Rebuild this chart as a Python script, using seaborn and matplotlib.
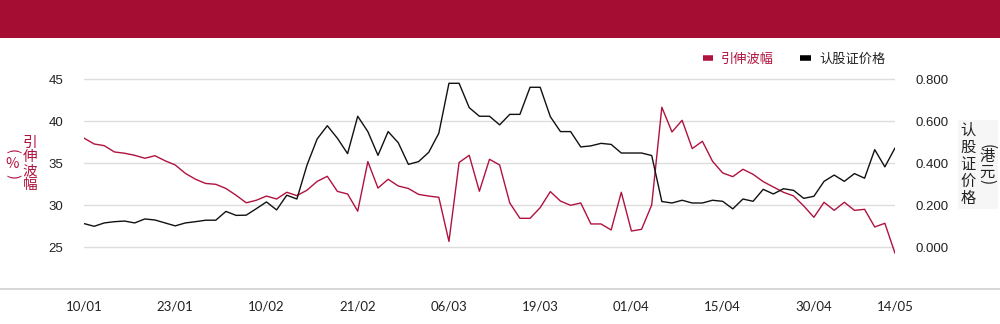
import numpy as np
import matplotlib
matplotlib.use("Agg")
import matplotlib.pyplot as plt
from matplotlib.patches import Rectangle
from matplotlib.lines import Line2D
import seaborn as sns

# Trading days (dd/mm)
dates = [
    "10/01", "11/01", "14/01", "15/01", "16/01", "17/01", "18/01", "21/01", "22/01", "23/01",
    "24/01", "25/01", "28/01", "29/01", "30/01", "31/01", "01/02", "04/02", "10/02", "11/02",
    "12/02", "13/02", "14/02", "15/02", "18/02", "19/02", "20/02", "21/02", "22/02", "25/02",
    "26/02", "27/02", "28/02", "01/03", "04/03", "05/03", "06/03", "07/03", "08/03", "11/03",
    "12/03", "13/03", "14/03", "15/03", "18/03", "19/03", "20/03", "21/03", "22/03", "25/03",
    "26/03", "27/03", "28/03", "29/03", "01/04", "02/04", "03/04", "04/04", "08/04", "09/04",
    "10/04", "11/04", "12/04", "15/04", "16/04", "17/04", "18/04", "23/04", "24/04", "25/04",
    "26/04", "29/04", "30/04", "02/05", "03/05", "06/05", "07/05", "08/05", "09/05", "10/05",
    "14/05",
]

# Implied volatility (%)
implied_vol = [
    38.0, 37.3, 37.1, 36.35, 36.2, 35.95, 35.6, 35.9, 35.3, 34.8,
    33.8, 33.1, 32.6, 32.5, 32.0, 31.2, 30.3, 30.6, 31.1, 30.75,
    31.55, 31.15, 31.8, 32.85, 33.45, 31.65, 31.35, 29.3, 35.2, 32.05,
    33.1, 32.3, 32.0, 31.3, 31.1, 30.95, 25.7, 35.1, 35.95, 31.67,
    35.48, 34.8, 30.28, 28.45, 28.45, 29.72, 31.63, 30.5, 30.0, 30.28,
    27.78, 27.78, 27.06, 31.55, 26.94, 27.14, 30.04, 41.67, 38.73, 40.12,
    36.75, 37.62, 35.24, 33.85, 33.41, 34.29, 33.69, 32.82, 32.18, 31.55,
    31.11, 29.92, 28.57, 30.36, 29.40, 30.36, 29.40, 29.52, 27.42, 27.86,
    24.29,
]

# Warrant price (HKD)
warrant_price = [
    0.113, 0.100, 0.116, 0.122, 0.125, 0.116, 0.135, 0.130, 0.116, 0.102,
    0.116, 0.122, 0.129, 0.129, 0.171, 0.152, 0.153, 0.184, 0.216, 0.178,
    0.248, 0.230, 0.392, 0.516, 0.579, 0.519, 0.446, 0.624, 0.551, 0.438,
    0.551, 0.498, 0.395, 0.408, 0.452, 0.543, 0.781, 0.781, 0.665, 0.624,
    0.624, 0.583, 0.633, 0.633, 0.762, 0.762, 0.622, 0.551, 0.551, 0.478,
    0.483, 0.495, 0.490, 0.449, 0.449, 0.449, 0.437, 0.218, 0.211, 0.224,
    0.211, 0.211, 0.224, 0.219, 0.183, 0.230, 0.219, 0.276, 0.254, 0.279,
    0.271, 0.233, 0.243, 0.314, 0.344, 0.314, 0.351, 0.329, 0.465, 0.383,
    0.473,
]

left_ticks = [25, 30, 35, 40, 45]
right_ticks = [0.0, 0.2, 0.4, 0.6, 0.8]
series_names = ["引伸波幅", "认股证价格"]
left_unit = "%"
right_unit = "港元"

RED = "#B0123E"
BANNER = "#A50E32"
GRID = "#DDDDDD"
INK = "#222222"
CJK = ["Noto Sans CJK SC", "DejaVu Sans"]

sns.set_theme(style="white")
plt.rcParams["font.family"] = ["Liberation Sans", "Noto Sans CJK SC", "DejaVu Sans"]

W, H = 1000, 324
fig = plt.figure(figsize=(W / 100, H / 100), dpi=100)


def fx(px):
    return px / W


def fy(py):
    return 1 - py / H


# crimson header band
fig.patches.append(Rectangle((0, fy(38)), 1, 38 / H, transform=fig.transFigure,
                             facecolor=BANNER, edgecolor="none", zorder=0))
# thin rule under the plot
fig.add_artist(Line2D([0, 1], [fy(289), fy(289)], transform=fig.transFigure,
                      color="#D0D0D0", lw=1.2))

ax_top_px, ax_bot_px = 70, 289
ax = fig.add_axes([fx(84), fy(ax_bot_px), (895 - 84) / W, (ax_bot_px - ax_top_px) / H])

x = np.arange(len(dates))
sns.lineplot(x=x, y=implied_vol, ax=ax, color=RED, lw=1.0, legend=False)
ax2 = ax.twinx()
sns.lineplot(x=x, y=warrant_price, ax=ax2, color="#111111", lw=1.0, legend=False)

# vertical scale: 45 sits at 79.3 px, 25 at 247.3 px
px_per_unit = (247.3 - 79.3) / 20
y_lo = 25 - (ax_bot_px - 247.3) / px_per_unit
y_hi = 45 + (79.3 - ax_top_px) / px_per_unit
ax.set_ylim(y_lo, y_hi)
ax2.set_ylim((y_lo - 25) * 0.04, (y_hi - 25) * 0.04)
ax.set_xlim(0, len(dates) - 1)

ax.set_yticks(left_ticks)
ax.set_yticklabels([str(t) for t in left_ticks])
ax2.set_yticks(right_ticks)
ax2.set_yticklabels([f"{t:.3f}" for t in right_ticks])

tick_idx = list(range(0, len(dates), 9))
if tick_idx[-1] != len(dates) - 1:
    tick_idx.append(len(dates) - 1)
ax.set_xticks(tick_idx)
ax.set_xticklabels([dates[i] for i in tick_idx], fontfamily="Lato", fontsize=9.5, color=INK)

ax.grid(axis="y", color=GRID, lw=1.0)
ax.grid(axis="x", visible=False)
ax2.grid(False)
for a in (ax, ax2):
    for s in a.spines.values():
        s.set_visible(False)
    a.set_xlabel("")
    a.set_ylabel("")
ax.tick_params(axis="y", length=0, pad=15, labelsize=9.5, labelcolor=INK)
ax2.tick_params(axis="y", length=0, pad=15, labelsize=9.5, labelcolor=INK)
ax.tick_params(axis="x", length=0, pad=8)


def vertical_unit(xc, y_open, middle, y_close, color, size, step, bg=None):
    """Parenthesised unit written top-to-bottom, brackets turned sideways."""
    kw = dict(ha="center", va="center", family=CJK, fontsize=size, color=color)
    fig.text(fx(xc), fy(y_open), "(", rotation=-90, **kw)
    y0 = y_open + (y_close - y_open - step * (len(middle) - 1)) / 2
    for k, ch in enumerate(middle):
        fig.text(fx(xc), fy(y0 + k * step), ch, **kw)
    fig.text(fx(xc), fy(y_close), ")", rotation=-90, **kw)


# axis titles, stacked vertically
fig.text(fx(30), fy(164), "\n".join(series_names[0]), color=RED, fontsize=10.5,
         ha="center", va="center", linespacing=1.0, family=CJK)
vertical_unit(12, 151, left_unit, 176, RED, 10.5, 15)

fig.add_artist(Rectangle((fx(958), fy(209)), 40 / W, 89 / H, transform=fig.transFigure,
                         facecolor="#F6F6F6", edgecolor="none", zorder=0))
fig.text(fx(968), fy(164), "\n".join(series_names[1]), color=INK, fontsize=11,
         ha="center", va="center", linespacing=1.0, family=CJK)
vertical_unit(987, 147, right_unit, 182, INK, 11, 15)

handles = [Line2D([], [], color=RED, lw=4, solid_capstyle="butt"),
           Line2D([], [], color="black", lw=4, solid_capstyle="butt")]
leg = fig.legend(handles, series_names, loc="center right", bbox_to_anchor=(fx(897), fy(59)),
                 ncol=2, frameon=False, handlelength=0.8, handletextpad=0.6, columnspacing=2.0,
                 prop={"family": CJK, "size": 9.5})
leg.get_texts()[0].set_color(RED)
leg.get_texts()[1].set_color(INK)

fig.savefig("out.png", dpi=100)
